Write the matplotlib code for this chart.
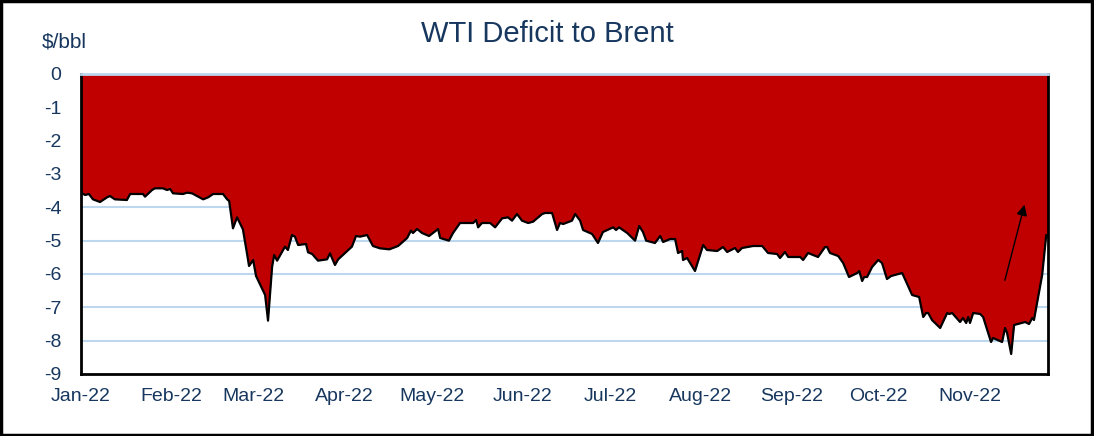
import numpy as np
import pandas as pd
import matplotlib
matplotlib.use("Agg")
import matplotlib.pyplot as plt
import matplotlib.dates as mdates
from matplotlib.patches import Rectangle

plt.rcParams['font.family'] = ['Liberation Sans', 'DejaVu Sans']
plt.rcParams['axes.unicode_minus'] = False

# days since 1 Jan 2022 and WTI minus Brent spread ($/bbl)
day_offsets = [
    0.0, 1.4, 2.7, 4.1, 6.5, 8.9, 9.9, 11.6, 15.7, 16.8, 21.2, 21.9, 24.3, 25.3,
    28.1, 29.4, 30.5, 31.5, 34.9, 36.3, 38.0, 41.8, 43.5, 45.2, 48.6, 50.0, 50.7,
    52.0, 53.4, 55.4, 56.8, 57.5, 58.9, 59.9, 63.0, 64.0, 65.4, 66.1, 67.1, 69.8,
    70.8, 72.2, 73.2, 74.3, 77.0, 77.7, 79.1, 81.1, 84.2, 85.2, 86.9, 88.0, 92.7,
    94.1, 95.5, 97.9, 99.9, 102.3, 105.5, 108.5, 111.6, 112.9, 113.6, 115.0,
    116.7, 119.1, 122.2, 122.9, 125.9, 127.3, 129.7, 134.2, 135.2, 135.9, 137.2,
    140.0, 141.7, 144.1, 146.1, 147.5, 149.2, 150.9, 153.0, 154.7, 157.8, 158.8,
    161.2, 162.9, 163.9, 165.0, 168.0, 169.1, 170.8, 171.8, 174.9, 176.9, 178.6,
    182.1, 183.1, 184.1, 186.9, 189.6, 191.0, 192.3, 193.4, 196.4, 198.2, 199.2,
    201.6, 203.3, 204.3, 205.7, 206.0, 207.4, 210.1, 212.9, 214.2, 217.7, 219.7,
    221.1, 223.8, 224.8, 226.2, 230.0, 233.1, 235.1, 238.2, 239.2, 240.9, 242.0,
    246.1, 247.1, 248.8, 252.2, 254.6, 255.3, 256.3, 259.1, 260.8, 262.8, 265.6,
    266.3, 267.3, 268.0, 269.0, 270.7, 272.8, 274.1, 275.8, 277.2, 281.0, 284.4,
    286.8, 288.2, 289.2, 289.9, 291.2, 294.0, 296.4, 297.1, 298.1, 300.8, 301.8,
    302.9, 303.6, 304.2, 305.3, 307.7, 308.7, 311.4, 312.1, 315.2, 316.2, 316.9,
    318.3, 319.3, 323.1, 324.4, 325.5, 326.1, 328.9, 330.3, 330.9,
]
spread = [
    -3.56, -3.63, -3.60, -3.76, -3.84, -3.70, -3.66, -3.76, -3.78, -3.60, -3.60,
    -3.68, -3.48, -3.43, -3.43, -3.48, -3.45, -3.58, -3.60, -3.56, -3.58, -3.76,
    -3.70, -3.60, -3.60, -3.76, -3.81, -4.63, -4.30, -4.66, -5.38, -5.76, -5.58,
    -6.06, -6.63, -7.40, -5.78, -5.43, -5.60, -5.18, -5.28, -4.83, -4.88, -5.13,
    -5.10, -5.35, -5.40, -5.60, -5.56, -5.38, -5.73, -5.56, -5.18, -4.86, -4.88,
    -4.83, -5.16, -5.23, -5.26, -5.16, -4.92, -4.70, -4.77, -4.65, -4.77, -4.86,
    -4.65, -4.92, -5.00, -4.77, -4.47, -4.47, -4.38, -4.60, -4.47, -4.47, -4.60,
    -4.33, -4.30, -4.40, -4.20, -4.40, -4.47, -4.43, -4.20, -4.17, -4.17, -4.68,
    -4.47, -4.50, -4.40, -4.20, -4.40, -4.68, -4.80, -5.07, -4.74, -4.60, -4.68,
    -4.60, -4.77, -5.00, -4.56, -4.74, -5.00, -5.07, -4.86, -5.04, -4.95, -4.95,
    -5.37, -5.31, -5.58, -5.52, -5.91, -5.13, -5.28, -5.31, -5.19, -5.34, -5.22,
    -5.34, -5.22, -5.16, -5.16, -5.37, -5.40, -5.52, -5.34, -5.49, -5.49, -5.58,
    -5.37, -5.49, -5.19, -5.19, -5.37, -5.46, -5.67, -6.09, -5.97, -5.91, -6.21,
    -6.09, -6.09, -5.79, -5.58, -5.67, -6.15, -6.06, -5.97, -6.63, -6.69, -7.29,
    -7.17, -7.17, -7.38, -7.62, -7.17, -7.20, -7.17, -7.44, -7.32, -7.47, -7.29,
    -7.47, -7.17, -7.20, -7.29, -8.04, -7.92, -8.04, -7.62, -7.77, -8.40, -7.53,
    -7.44, -7.50, -7.32, -7.38, -6.03, -4.83, -4.89,
]

# arrow showing the recent narrowing (start, end) in days / $/bbl
arrow_days = [315.9, 323.1]
arrow_vals = [-6.27, -3.84]

start = pd.Timestamp('2022-01-01')
dates = start + pd.to_timedelta(day_offsets, unit='D')
arrow_dates = start + pd.to_timedelta(arrow_days, unit='D')

navy = '#17375E'
grid_blue = '#BDD7EE'

fig = plt.figure(figsize=(10.94, 4.36), dpi=100)
ax = fig.add_axes([81 / 1094, 1 - 374 / 436, (1048 - 81) / 1094, 300 / 436])

for y in range(-8, 0):
    ax.axhline(y, color=grid_blue, lw=1.5, zorder=1)

ax.fill_between(dates, spread, 0, color='#C00000', lw=0, zorder=2)
ax.plot(dates, spread, color='black', lw=1.6, zorder=3)

ax.annotate('', xy=(arrow_dates[1], arrow_vals[1]), xytext=(arrow_dates[0], arrow_vals[0]),
            arrowprops=dict(arrowstyle='-|>', color='black', lw=1, mutation_scale=16),
            zorder=4)

ax.set_xlim(dates[0], dates[-1])
ax.set_ylim(-9, 0)
ax.set_yticks(range(-9, 1))
ax.xaxis.set_major_locator(mdates.MonthLocator())
ax.xaxis.set_major_formatter(mdates.DateFormatter('%b-%y'))

for side in ['left', 'bottom', 'right']:
    ax.spines[side].set_color('black')
    ax.spines[side].set_linewidth(2)
ax.spines['top'].set_color(grid_blue)
ax.spines['top'].set_linewidth(2)
ax.spines['top'].set_zorder(5)

ax.tick_params(axis='x', top=True, bottom=False, labeltop=False, labelbottom=True,
               direction='in', length=4, width=1.5, color=grid_blue,
               labelsize=14, labelcolor=navy, pad=10)
ax.tick_params(axis='y', length=0, labelsize=14, labelcolor=navy, pad=14)

fig.text(0.5, 1 - 34 / 436, 'WTI Deficit to Brent', ha='center', va='center',
         fontsize=21, color=navy)
fig.text(42 / 1094, 1 - 42 / 436, '$/bbl', ha='left', va='center',
         fontsize=15, color=navy)

fig.patches.append(Rectangle((0.001, 0.002), 0.997, 0.995, transform=fig.transFigure,
                             fill=False, edgecolor='black', lw=2.5))

fig.savefig('out.png', dpi=100)
